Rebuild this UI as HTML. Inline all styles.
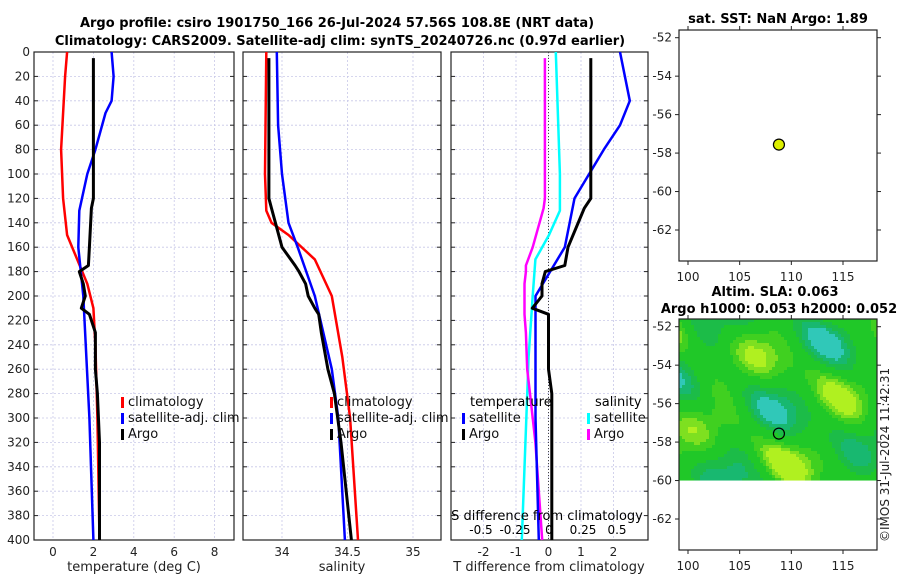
<!DOCTYPE html>
<html><head><meta charset="utf-8">
<style>
body{margin:0;background:#fff;}
svg text{font-family:"DejaVu Sans","Liberation Sans",sans-serif;}
</style></head>
<body>
<svg id="fig" width="900" height="580" xmlns="http://www.w3.org/2000/svg">
<text x="337" y="27" text-anchor="middle" font-size="13" font-weight="bold">Argo profile: csiro 1901750_166 26-Jul-2024 57.56S 108.8E (NRT data)</text>
<text x="340" y="45" text-anchor="middle" font-size="13" font-weight="bold">Climatology: CARS2009. Satellite-adj clim: synTS_20240726.nc (0.97d earlier)</text>
<g id="g"></g>
</svg>
<script>
// ---- data ----
const tDepth=[0,20,50,80,120,150,170,190,210,240,300,400];
const tClim=[0.7,0.6,0.5,0.4,0.5,0.7,1.2,1.7,2.0,2.1,2.2,2.3];
const sDepthSat=[0,20,40,50,80,100,130,160,200,300,400];
const tSat=[2.9,3.0,2.9,2.6,2.1,1.7,1.3,1.25,1.5,1.8,2.0];
const argoDepth=[5,120,128,160,175,180,190,200,210,215,230,260,280,320,400];
const tArgo=[2.0,2.0,1.9,1.8,1.75,1.3,1.5,1.6,1.4,1.8,2.1,2.1,2.2,2.3,2.3];
const sClimDepth=[0,100,130,140,150,170,200,250,300,400];
const sClim=[33.88,33.87,33.88,33.92,34.05,34.25,34.38,34.46,34.52,34.58];
const sSatDepth=[0,60,100,140,160,200,260,300,400];
const sSat=[33.96,33.97,34.0,34.05,34.12,34.25,34.38,34.43,34.48];
const sArgo=[33.9,33.9,33.92,34.0,34.1,34.13,34.18,34.2,34.25,34.28,34.3,34.35,34.4,34.45,34.53];
const dSatDepth=[0,40,60,80,120,160,200,300,400];
const dTSat=[2.2,2.5,2.2,1.7,0.8,0.5,-0.4,-0.4,-0.3];
const dTArgo=[1.3,1.3,1.1,0.6,0.5,-0.1,-0.2,-0.2,-0.5,0.0,0.0,0.0,0.1,0.1,0.1];
const dSSatDepth=[0,100,130,150,170,200,250,400];
const dSSat=[0.05,0.08,0.08,0.0,-0.1,-0.12,-0.15,-0.2];
const dSArgo=[-0.03,-0.03,-0.04,-0.12,-0.17,-0.17,-0.18,-0.18,-0.18,-0.18,-0.17,-0.16,-0.14,-0.1,-0.05];
const depthTicks=[0,20,40,60,80,100,120,140,160,180,200,220,240,260,280,300,320,340,360,380,400];
const tTicks=[0,2,4,6,8], sTicks=[34,34.5,35], dTTicks=[-2,-1,0,1,2], dSTicks=[-0.5,-0.25,0,0.25,0.5];
const dSTickLabels=["-0.5","-0.25","0","0.25","0.5"];
const latTicks=[-52,-54,-56,-58,-60,-62], lonTicks=[100,105,110,115];
const argoLon=108.8, argoLat=-57.56;

const G=document.getElementById('g');
const NS='http://www.w3.org/2000/svg';
function el(tag,at,txt){const e=document.createElementNS(NS,tag);for(const k in at)e.setAttribute(k,at[k]);if(txt!==undefined)e.textContent=txt;G.appendChild(e);return e;}
const Y0=52,Y1=540;
const yD=d=>Y0+(d/400)*(Y1-Y0);
function lin(d0,d1,r0,r1){return v=>r0+(v-d0)/(d1-d0)*(r1-r0);}
function panel(name,x0,x1,xs,ticks,labels,showY){
  const r=el('rect',{x:x0,y:Y0,width:x1-x0,height:Y1-Y0,fill:'#fff',stroke:'none'});
  
  depthTicks.forEach(d=>{if(d>0&&d<400){const l=el('line',{x1:x0,x2:x1,y1:yD(d),y2:yD(d),stroke:'#c8c8e8','stroke-dasharray':'2,2','stroke-width':0.8});}});
  ticks.forEach((t,i)=>{const x=xs(t);const l=el('line',{x1:x,x2:x,y1:Y0,y2:Y1,stroke:'#c8c8e8','stroke-dasharray':'2,2','stroke-width':0.8});
    if(labels){const tx=el('text',{x:x,y:Y1+16,'text-anchor':'middle','font-size':12,fill:'#222'},labels[i]);}});
  depthTicks.forEach(d=>{el('line',{x1:x0,x2:x0+4,y1:yD(d),y2:yD(d),stroke:'#222'});el('line',{x1:x1,x2:x1-4,y1:yD(d),y2:yD(d),stroke:'#222'});
    if(showY){const tx=el('text',{x:x0-4,y:yD(d)+4,'text-anchor':'end','font-size':12,fill:'#222'},d);}});
  const b=el('rect',{x:x0,y:Y0,width:x1-x0,height:Y1-Y0,fill:'none',stroke:'#222','stroke-width':1.2});
  
}
function line(name,xs,vals,depths,color,w){
  const p=vals.map((v,i)=>xs(v).toFixed(1)+','+yD(depths[i]).toFixed(1)).join(' ');
  const e=el('polyline',{points:p,fill:'none',stroke:color,'stroke-width':w||2.5,'stroke-linejoin':'round'});
  
}
function legend(x,y,items){items.forEach((it,i)=>{el('rect',{x:x,y:y+i*16-9,width:3,height:11,fill:it[1]});
  const t=el('text',{x:x+7,y:y+i*16,'font-size':13,fill:'#111'},it[0]);});}

// panel 1
const xT=lin(0,2,53,93.4);
panel('temperature',34,234,xT,tTicks,tTicks.map(String),true);
line('temp-climatology',xT,tClim,tDepth,'#f00');
line('temp-satellite',xT,tSat,sDepthSat,'#00f');
line('temp-argo',xT,tArgo,argoDepth,'#000',3);
legend(121,406,[['climatology','#f00'],['satellite-adj. clim','#00f'],['Argo','#000']]);
let t=el('text',{x:134,y:571,'text-anchor':'middle','font-size':13,fill:'#222'},'temperature (deg C)');
// panel 2
const xS=lin(34,35,282,413);
panel('salinity',243,441,xS,sTicks,['34','34.5','35'],false);
line('sal-climatology',xS,sClim,sClimDepth,'#f00');
line('sal-satellite',xS,sSat,sSatDepth,'#00f');
line('sal-argo',xS,sArgo,argoDepth,'#000',3);
legend(330,406,[['climatology','#f00'],['satellite-adj. clim','#00f'],['Argo','#000']]);
t=el('text',{x:342,y:571,'text-anchor':'middle','font-size':13,fill:'#222'},'salinity');
// panel 3
const xDT=lin(0,1,548.5,581);
const xDS=lin(0,0.25,549,583);
panel('difference',451,648,xDT,dTTicks,dTTicks.map(String),false);
el('line',{x1:xDT(0),x2:xDT(0),y1:Y0,y2:Y1,stroke:'#444','stroke-dasharray':'1,2'});
line('sdiff-satellite',xDS,dSSat,dSSatDepth,'#0ff');
line('sdiff-argo',xDS,dSArgo,argoDepth,'#f0f');
line('tdiff-satellite',xDT,dTSat,dSatDepth,'#00f');
line('tdiff-argo',xDT,dTArgo,argoDepth,'#000',3);
el('text',{x:470,y:406,'font-size':13},'temperature');
el('text',{x:595,y:406,'font-size':13},'salinity');
legend(462,422,[['satellite','#00f'],['Argo','#000']]);
legend(587,422,[['satellite','#0ff'],['Argo','#f0f']]);
t=el('text',{x:547,y:520,'text-anchor':'middle','font-size':13},'S difference from climatology');
dSTicks.forEach((v,i)=>{const tx=el('text',{x:xDS(v),y:534,'text-anchor':'middle','font-size':12},dSTickLabels[i]);});
t=el('text',{x:549,y:571,'text-anchor':'middle','font-size':13,fill:'#222'},'T difference from climatology');

// maps
const lonX=lin(100,115,688,843);
function map(name,top){
  const latY=lin(-52,-62,top+7.7,top+200);
  if(name==='sla-map'){
    const yEnd=latY(-60);
    for(let y=top;y<yEnd;y+=3){for(let x=679;x<877;x+=3){
      const a=0.9*Math.sin(x*0.05+y*0.04)+Math.cos(y*0.07-x*0.025)+0.6*Math.sin((x-y)*0.06+1)+0.4*Math.cos(x*0.11-y*0.09);
      let c='#20c828';
      if(a>1.7)c='#b0f020';else if(a>1.2)c='#7ee020';else if(a>0.6)c='#40d020';else if(a<-1.9)c='#30c8b8';else if(a<-1.3)c='#18b870';else if(a<-0.6)c='#1cbc48';
      const r=el('rect',{x:x,y:y,width:3,height:Math.min(3,yEnd-y),fill:c});}}
  }
  const b=el('rect',{x:679,y:top,width:198,height:231,fill:'none',stroke:'#222','stroke-width':1.2});
  latTicks.forEach(v=>{const y=latY(v);el('line',{x1:679,x2:675,y1:y,y2:y,stroke:'#222'});el('line',{x1:877,x2:881,y1:y,y2:y,stroke:'#222'});
    const tx=el('text',{x:672,y:y+4,'text-anchor':'end','font-size':12,fill:'#222'},v);});
  lonTicks.forEach(v=>{const x=lonX(v);el('line',{x1:x,x2:x,y1:top+231,y2:top+235,stroke:'#222'});el('line',{x1:x,x2:x,y1:top,y2:top-4,stroke:'#222'});
    const tx=el('text',{x:x,y:top+251,'text-anchor':'middle','font-size':12,fill:'#222'},v);});
  const c=el('circle',{cx:lonX(argoLon),cy:latY(argoLat),r:5.5,fill:name==='sst-map'?'#ddf000':'none',stroke:'#000','stroke-width':1.2});
  
}
map('sst-map',30);
map('sla-map',319);
t=el('text',{x:778,y:23,'text-anchor':'middle','font-size':13,'font-weight':'bold'},'sat. SST: NaN Argo: 1.89');
t=el('text',{x:775,y:296,'text-anchor':'middle','font-size':13,'font-weight':'bold'},'Altim. SLA: 0.063');
t=el('text',{x:779,y:313,'text-anchor':'middle','font-size':13,'font-weight':'bold'},'Argo h1000: 0.053 h2000: 0.052');
t=el('text',{x:0,y:0,'font-size':12,fill:'#222',transform:'translate(889,542) rotate(-90)'},'©IMOS 31-Jul-2024 11:42:31');
</script>
</body></html>
